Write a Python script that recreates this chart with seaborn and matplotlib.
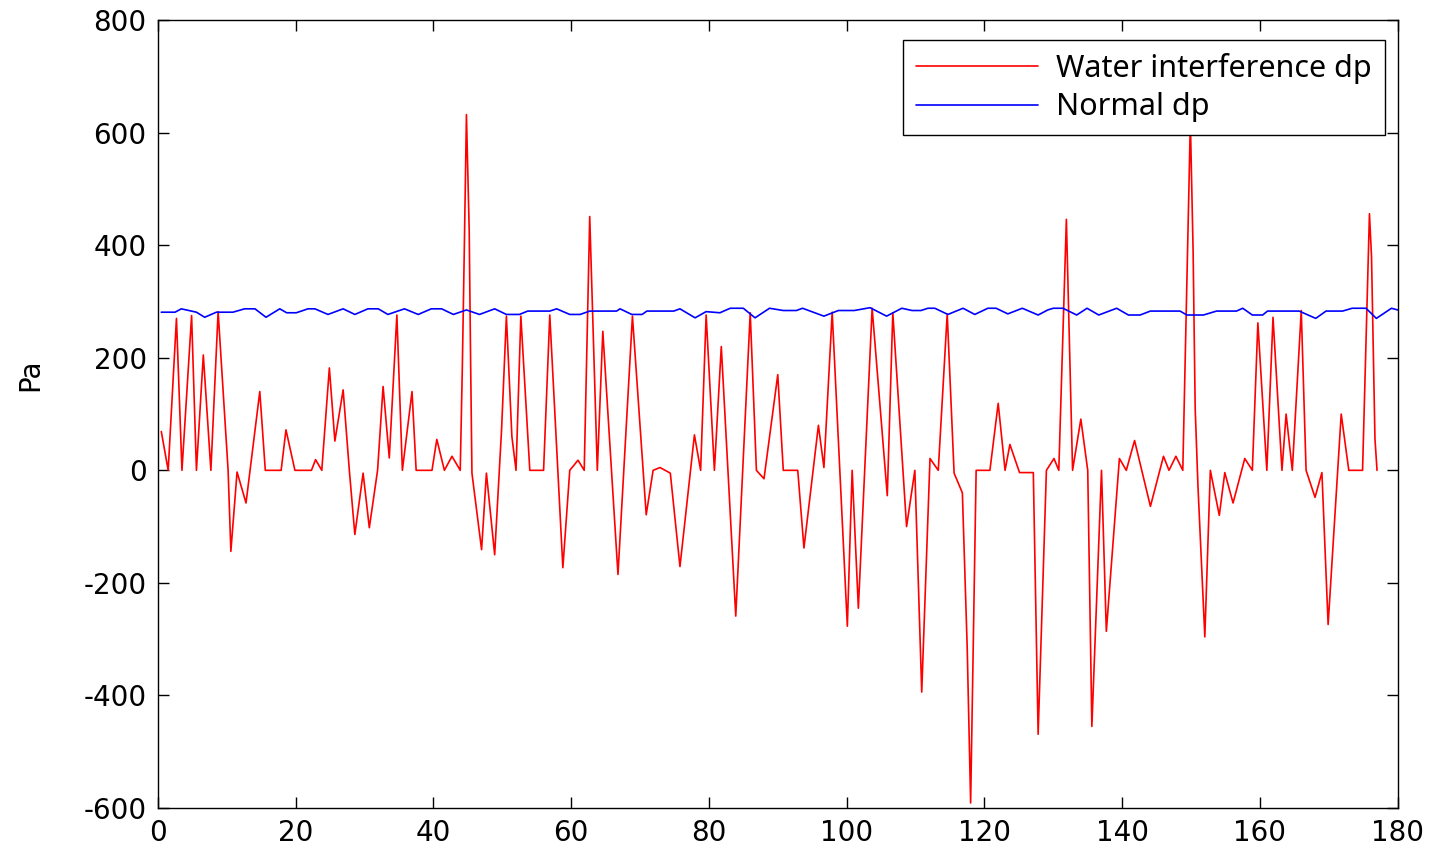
import numpy as np
import pandas as pd
import matplotlib
matplotlib.use("Agg")
import matplotlib.pyplot as plt
import seaborn as sns

# Water interference dp (x, Pa)
water_x = [0.5, 1.5, 2.7, 3.5, 4.9, 5.6, 6.6, 7.7, 8.75, 10.2, 10.6, 11.5, 12.8, 14.8, 15.6,
           17.9, 18.6, 19.9, 22.3, 22.9, 23.8, 24.9, 25.7, 26.9, 27.8, 28.6, 29.8, 30.7, 31.9,
           32.7, 33.6, 34.7, 35.5, 36.9, 37.5, 39.8, 40.5, 41.6, 42.7, 43.9, 44.2, 44.5, 44.8,
           45.2, 45.4, 45.6, 47.0, 47.7, 48.9, 49.9, 50.6, 51.4, 52.0, 52.7, 54.0, 56.0, 56.9,
           58.8, 59.8, 61.0, 61.9, 62.7, 63.8, 64.6, 66.8, 68.9, 70.9, 71.9, 72.9, 74.4, 75.8,
           77.9, 78.8, 79.6, 80.8, 81.8, 83.9, 86.0, 86.9, 88.0, 90.0, 90.8, 92.9, 93.8, 95.9,
           96.7, 97.9, 100.1, 100.8, 101.7, 103.7, 105.9, 106.7, 108.7, 109.9, 110.9, 112.1,
           113.3, 114.6, 115.6, 116.8, 117.5, 118.0, 118.8, 120.8, 122.0, 123.0, 123.7, 125.1,
           127.1, 127.8, 129.0, 130.1, 130.8, 131.9, 132.8, 134.0, 135.0, 135.6, 137.0, 137.7,
           139.6, 140.6, 141.8, 144.1, 146.0, 146.8, 147.8, 148.8, 149.9, 150.3, 150.6, 151.0,
           152.0, 152.8, 154.1, 154.9, 156.1, 157.8, 158.9, 159.7, 161.0, 161.9, 163.2, 163.8,
           164.7, 166.0, 166.7, 168.0, 169.0, 169.9, 171.8, 172.9, 174.9, 175.9, 176.2, 176.7,
           177.0]
water_y = [69, 0, 270, 0, 275, 0, 205, 0, 282, 0, -144, -3, -58, 140, 0,
           0, 72, 0, 0, 19, 0, 182, 52, 143, 0, -114, -5, -102, 0,
           149, 22, 276, 0, 140, 0, 0, 55, 0, 25, 0, 180, 400, 632,
           428, 202, -5, -141, -5, -150, 72, 274, 60, 0, 274, 0, 0, 276,
           -173, 0, 18, 0, 451, 0, 247, -185, 274, -79, 0, 5, -5, -171,
           63, 0, 276, 0, 220, -259, 280, 0, -15, 170, 0, 0, -138, 80,
           5, 281, -277, 0, -245, 288, -45, 280, -100, 0, -394, 21,
           0, 278, -5, -40, -314, -591, 0, 0, 119, 0, 46, -4,
           -4, -469, 0, 21, 0, 446, 0, 91, 0, -455, 0, -286,
           21, 0, 53, -64, 25, 0, 25, 0, 620, 389, 110, -27,
           -296, 0, -80, -4, -58, 21, 0, 262, 0, 272, 0, 100,
           0, 284, 0, -48, -4, -274, 100, 0, 0, 456, 380, 56,
           0]

# Normal dp
normal_x = [0.5, 2.5, 3.4, 4.5, 5.6, 6.8, 8.5, 10.9, 12.6, 14.1, 15.7, 17.7, 18.7, 20.1, 21.8,
            22.8, 24.7, 26.9, 28.6, 30.5, 32.0, 33.4, 35.8, 37.8, 39.7, 41.2, 42.9, 44.8, 46.7,
            48.9, 50.6, 52.5, 53.7, 56.9, 57.9, 59.8, 61.3, 62.7, 66.6, 67.1, 68.8, 70.3, 71.0,
            74.9, 75.8, 78.0, 79.6, 81.6, 83.1, 85.0, 86.7, 88.8, 90.8, 92.7, 93.6, 96.7, 98.8,
            101.1, 103.4, 105.8, 108.0, 109.5, 110.8, 111.8, 112.8, 114.7, 116.9, 118.6, 120.5,
            121.7, 123.4, 125.5, 127.8, 129.2, 130.0, 131.4, 133.4, 134.9, 136.6, 139.2, 140.9,
            142.6, 144.1, 148.4, 149.4, 151.8, 153.7, 156.6, 157.5, 158.9, 160.4, 161.1, 165.7,
            168.1, 169.6, 172.0, 173.4, 175.4, 176.9, 179.1, 180.0]
normal_y = [281, 281, 287, 284, 281, 272, 281, 281, 287, 287, 272, 287, 280, 280, 287,
            287, 277, 287, 277, 287, 287, 277, 287, 277, 287, 287, 277, 285, 277,
            287, 277, 277, 283, 283, 287, 277, 277, 283, 283, 287, 277, 277, 283,
            283, 287, 271, 282, 280, 288, 288, 271, 288, 284, 284, 288, 274, 284,
            284, 289, 274, 288, 284, 284, 288, 288, 277, 288, 277, 288,
            288, 278, 288, 276, 285, 288, 288, 276, 288, 276, 288, 276,
            276, 283, 283, 276, 276, 283, 283, 288, 276, 276, 283, 283,
            270, 283, 283, 288, 288, 270, 288, 285]

x_ticks = [0, 20, 40, 60, 80, 100, 120, 140, 160, 180]
y_ticks = [-600, -400, -200, 0, 200, 400, 600, 800]

water = pd.DataFrame({"x": water_x, "dp": water_y})
normal = pd.DataFrame({"x": normal_x, "dp": normal_y})

sns.set_theme(style="ticks")
plt.rcParams["font.family"] = ["DejaVu Sans"]
plt.rcParams["axes.unicode_minus"] = False
plt.rcParams["text.color"] = "black"

fig = plt.figure(figsize=(14.35, 8.49), dpi=100)
ax = fig.add_axes([0.110, 0.0483, 0.864, 0.928])

sns.lineplot(data=water, x="x", y="dp", ax=ax, color="#ff0000", linewidth=1.2,
             sort=False, estimator=None, label="Water interference dp")
sns.lineplot(data=normal, x="x", y="dp", ax=ax, color="#0000ff", linewidth=1.2,
             sort=False, estimator=None, label="Normal dp")

ax.set_xlim(0, 180)
ax.set_ylim(-600, 800)
ax.set_xticks(x_ticks)
ax.set_yticks(y_ticks)
ax.set_xlabel("")
ax.set_ylabel("Pa", fontsize=20, color="black")
ax.yaxis.set_label_coords(-0.092, 0.55)

ax.tick_params(direction="in", length=8, width=1, top=True, right=True,
               labelsize=20, colors="black", pad=8)
for s in ax.spines.values():
    s.set_visible(True)
    s.set_color("black")
    s.set_linewidth(1.0)

leg = ax.legend(loc="upper right", bbox_to_anchor=(0.9895, 0.9746), borderaxespad=0,
                frameon=True, fancybox=False, framealpha=1, edgecolor="black",
                handlelength=4.0, handletextpad=0.6, labelspacing=0.27, borderpad=0.42,
                prop={"family": ["Noto Sans", "DejaVu Sans"], "size": 22})
leg.get_frame().set_linewidth(1.0)
for t in leg.get_texts():
    t.set_color("black")

fig.savefig("out.png", dpi=100)
